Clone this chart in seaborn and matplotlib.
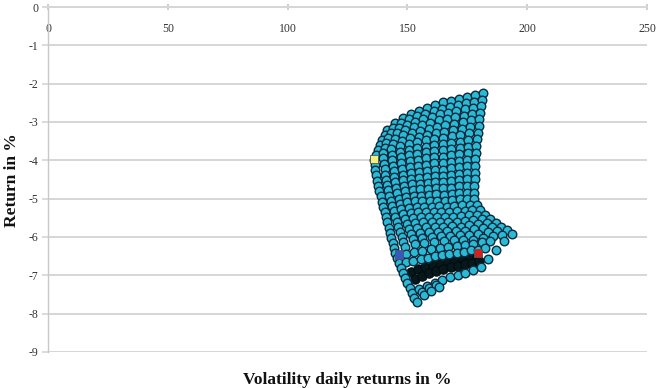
import matplotlib
matplotlib.use("Agg")
import matplotlib.pyplot as plt
import seaborn as sns
import pandas as pd

# ---- data (volatility %, return %) ----
# visible (light) portfolios, one list per row of the grid, top to bottom
mesh_vol = [
    [141.5, 144.8, 148.2, 151.5, 154.9, 158.2, 161.6, 164.9, 168.2, 171.6, 174.9, 178.3, 181.6],
    [140.6, 143.9, 147.4, 150.7, 154.1, 157.5, 160.9, 164.3, 167.6, 171.0, 174.4, 177.8, 181.2],
    [139.6, 143.0, 146.5, 149.9, 153.3, 156.7, 160.2, 163.6, 167.0, 170.4, 173.9, 177.3, 180.7],
    [138.7, 142.1, 145.7, 149.1, 152.6, 156.0, 159.6, 163.0, 166.5, 169.9, 173.5, 176.9, 180.4],
    [137.7, 141.2, 144.8, 148.3, 151.8, 155.3, 158.9, 162.4, 165.9, 169.4, 173.0, 176.5, 180.0],
    [136.9, 140.5, 144.1, 147.6, 151.2, 154.7, 158.3, 161.9, 165.4, 169.0, 172.6, 176.1, 179.7],
    [136.1, 139.7, 143.3, 146.9, 150.5, 154.1, 157.7, 161.3, 164.9, 168.5, 172.1, 175.7, 179.3],
    [136.4, 139.9, 143.5, 147.1, 150.6, 154.2, 157.7, 161.3, 164.8, 168.4, 172.0, 175.5, 179.1],
    [136.6, 140.1, 143.6, 147.2, 150.7, 154.2, 157.7, 161.2, 164.7, 168.3, 171.8, 175.3, 178.8],
    [137.0, 140.5, 143.9, 147.5, 150.9, 154.4, 157.8, 161.3, 164.7, 168.3, 171.7, 175.2, 178.6],
    [137.4, 140.8, 144.2, 147.7, 151.1, 154.5, 157.9, 161.3, 164.7, 168.2, 171.6, 175.0, 178.4],
    [137.8, 141.2, 144.6, 148.0, 151.3, 154.7, 158.1, 161.4, 164.8, 168.2, 171.6, 175.0, 178.3],
    [138.2, 141.5, 144.9, 148.2, 151.5, 154.9, 158.2, 161.5, 164.9, 168.2, 171.5, 174.9, 178.2],
    [138.8, 142.0, 145.3, 148.6, 151.9, 155.2, 158.4, 161.7, 165.0, 168.3, 171.5, 174.8, 178.1],
    [139.3, 142.5, 145.7, 149.0, 152.2, 155.4, 158.6, 161.8, 165.0, 168.3, 171.5, 174.7, 177.9],
    [139.9, 143.1, 146.3, 149.5, 152.6, 155.8, 159.0, 162.1, 165.3, 168.5, 171.7, 174.8, 178.0],
    [140.5, 143.6, 146.8, 149.9, 153.0, 156.1, 159.3, 162.4, 165.5, 168.6, 171.8, 174.9, 178.0],
    [141.1, 144.2, 147.5, 150.6, 153.8, 156.9, 160.2, 163.3, 166.5, 169.6, 172.9, 176.0, 179.2],
    [141.6, 144.8, 148.1, 151.3, 154.5, 157.7, 161.0, 164.2, 167.4, 170.6, 173.9, 177.1, 180.3],
    [142.2, 145.5, 148.9, 152.3, 155.6, 158.9, 162.3, 165.7, 169.0, 172.4, 175.7, 179.1, 182.4],
    [142.7, 146.2, 149.7, 153.2, 156.6, 160.1, 163.6, 167.1, 170.6, 174.1, 177.5, 181.0, 184.5],
    [143.3, 146.9, 150.5, 154.2, 157.8, 161.4, 165.0, 168.7, 172.3, 175.9, 179.5, 183.1, 186.8],
    [143.8, 147.6, 151.3, 155.1, 158.9, 162.6, 166.4, 170.2, 173.9, 177.7, 181.5, 185.2, 189.0],
    [144.4, 148.3, 152.2, 156.1, 160.1, 163.9, 167.9, 171.8, 175.7, 179.6, 183.6, 187.4, 191.4],
    [144.9, 149.0, 153.0, 157.1, 161.2, 165.2, 169.3, 173.4, 177.4, 181.5, 185.6, 189.6, 193.7],
    [145.7, 149.3, 152.8, 156.3, 159.9, 163.4, 166.9, 170.5, 174.0, 177.5, 181.1, 184.6],
    [146.5, 149.5, 152.5, 155.5, 158.5, 161.5, 164.5, 167.5, 170.5, 173.5, 176.5, 179.5, 182.5],
    [147.3, 148.2],
    [149.1, 150.0],
    [150.9, 151.8, 155.0, 158.2, 161.4, 164.6, 167.8, 171.0, 174.2, 177.4, 180.6, 183.8, 187.0, 190.2],
    [152.9, 156.0, 159.0, 162.0],
    [154.0, 157.0, 160.0, 163.0],
]
mesh_ret = [
    [-3.21, -3.03, -2.90, -2.79, -2.71, -2.64, -2.56, -2.49, -2.44, -2.39, -2.34, -2.30, -2.25],
    [-3.34, -3.16, -3.03, -2.93, -2.85, -2.79, -2.71, -2.65, -2.60, -2.55, -2.51, -2.47, -2.42],
    [-3.46, -3.29, -3.16, -3.07, -2.99, -2.93, -2.86, -2.80, -2.76, -2.71, -2.67, -2.63, -2.59],
    [-3.59, -3.42, -3.30, -3.21, -3.14, -3.08, -3.02, -2.96, -2.92, -2.88, -2.84, -2.80, -2.76],
    [-3.72, -3.55, -3.44, -3.35, -3.28, -3.23, -3.17, -3.12, -3.08, -3.04, -3.00, -2.96, -2.93],
    [-3.85, -3.68, -3.58, -3.49, -3.43, -3.38, -3.33, -3.28, -3.25, -3.21, -3.17, -3.13, -3.11],
    [-3.98, -3.81, -3.71, -3.63, -3.58, -3.53, -3.48, -3.44, -3.41, -3.37, -3.34, -3.30, -3.28],
    [-4.12, -3.95, -3.85, -3.78, -3.73, -3.68, -3.64, -3.60, -3.58, -3.54, -3.51, -3.47, -3.45],
    [-4.25, -4.09, -3.99, -3.92, -3.87, -3.83, -3.79, -3.76, -3.74, -3.70, -3.67, -3.64, -3.62],
    [-4.39, -4.23, -4.14, -4.07, -4.03, -3.99, -3.95, -3.92, -3.91, -3.87, -3.84, -3.81, -3.80],
    [-4.53, -4.37, -4.28, -4.22, -4.18, -4.15, -4.11, -4.08, -4.07, -4.04, -4.01, -3.98, -3.97],
    [-4.67, -4.51, -4.43, -4.37, -4.33, -4.31, -4.27, -4.25, -4.24, -4.21, -4.18, -4.16, -4.15],
    [-4.80, -4.64, -4.57, -4.51, -4.48, -4.46, -4.43, -4.41, -4.40, -4.38, -4.35, -4.33, -4.32],
    [-4.94, -4.78, -4.72, -4.66, -4.63, -4.61, -4.59, -4.57, -4.57, -4.55, -4.52, -4.50, -4.49],
    [-5.08, -4.92, -4.86, -4.81, -4.78, -4.76, -4.75, -4.73, -4.73, -4.71, -4.68, -4.66, -4.66],
    [-5.21, -5.06, -5.00, -4.95, -4.93, -4.92, -4.91, -4.89, -4.90, -4.88, -4.85, -4.84, -4.84],
    [-5.34, -5.19, -5.13, -5.09, -5.07, -5.07, -5.06, -5.05, -5.06, -5.04, -5.02, -5.01, -5.01],
    [-5.48, -5.33, -5.27, -5.24, -5.22, -5.21, -5.21, -5.20, -5.21, -5.19, -5.17, -5.16, -5.16],
    [-5.62, -5.47, -5.41, -5.38, -5.36, -5.35, -5.35, -5.35, -5.36, -5.33, -5.31, -5.30, -5.30],
    [-5.76, -5.60, -5.54, -5.51, -5.49, -5.48, -5.48, -5.48, -5.49, -5.46, -5.43, -5.42, -5.42],
    [-5.89, -5.73, -5.67, -5.64, -5.62, -5.61, -5.61, -5.60, -5.61, -5.58, -5.55, -5.53, -5.53],
    [-6.03, -5.86, -5.80, -5.77, -5.75, -5.74, -5.73, -5.72, -5.73, -5.69, -5.66, -5.63, -5.63],
    [-6.16, -5.99, -5.93, -5.89, -5.87, -5.86, -5.85, -5.84, -5.84, -5.80, -5.76, -5.73, -5.73],
    [-6.30, -6.12, -6.06, -6.02, -6.00, -5.98, -5.97, -5.96, -5.96, -5.92, -5.87, -5.84, -5.83],
    [-6.43, -6.25, -6.19, -6.15, -6.12, -6.10, -6.09, -6.08, -6.07, -6.03, -5.98, -5.94, -5.93],
    [-6.56, -6.45, -6.40, -6.36, -6.32, -6.29, -6.26, -6.24, -6.21, -6.18, -6.14, -6.10],
    [-6.69, -6.66, -6.62, -6.58, -6.54, -6.50, -6.47, -6.44, -6.41, -6.38, -6.35, -6.33, -6.30],
    [-6.82, -6.95],
    [-7.08, -7.20],
    [-7.33, -7.46, -7.35, -7.27, -7.19, -7.12, -7.05, -6.99, -6.93, -6.87, -6.78, -6.58, -6.34, -6.10],
    [-7.58, -7.43, -7.33, -7.24],
    [-7.70, -7.52, -7.41, -7.30],
]
# folded-under portfolios that show as a dark band
fold_vol = [
    [151.3, 154.4, 157.5, 160.6, 163.7, 166.8, 169.9, 173.0, 176.1, 179.2],
    [153.0, 156.0, 159.0, 162.0, 165.0, 168.0, 171.0, 174.0, 177.0, 180.0],
]
fold_ret = [
    [-6.90, -6.84, -6.79, -6.74, -6.70, -6.66, -6.62, -6.59, -6.56, -6.53],
    [-7.10, -7.02, -6.95, -6.89, -6.84, -6.79, -6.75, -6.71, -6.67, -6.63],
]
special_vol = [136.0, 146.5, 179.5]
special_ret = [-3.97, -6.45, -6.42]
special_name = ["yellow", "blue", "red"]
special_colors = {"yellow": "#F4F07A", "blue": "#3358C8", "red": "#D62020"}

x_ticks = [0, 50, 100, 150, 200, 250]
y_ticks = [0, -1, -2, -3, -4, -5, -6, -7, -8, -9]

# ---- build tables ----
mesh_df = pd.DataFrame({
    "vol": [v for row in mesh_vol for v in row],
    "ret": [r for row in mesh_ret for r in row],
})
fold_df = pd.DataFrame({
    "vol": [v for row in fold_vol for v in row],
    "ret": [r for row in fold_ret for r in row],
})
spec_df = pd.DataFrame({"vol": special_vol, "ret": special_ret, "name": special_name})

sns.set_theme(style="white")
plt.rcParams["font.family"] = ["Liberation Serif", "DejaVu Serif"]

fig = plt.figure(figsize=(6.56, 3.88), dpi=100)
ax = fig.add_axes([48 / 656, 1 - 352 / 388, (647 - 48) / 656, (352 - 7) / 388])

grid_c = "#D6D6D6"
ax.set_xlim(0, 250)
ax.set_ylim(-9, 0)
ax.set_yticks(y_ticks)
ax.set_yticklabels([str(t) for t in y_ticks])
ax.set_xticks(x_ticks)
ax.set_xticklabels([str(t) for t in x_ticks])
ax.yaxis.grid(True, color=grid_c, linewidth=1.4)
ax.xaxis.grid(False)
ax.set_axisbelow(True)

for s in ["right", "bottom"]:
    ax.spines[s].set_visible(False)
ax.spines["left"].set_color("#C8C8C8")
ax.spines["left"].set_linewidth(1.0)
ax.spines["top"].set_color(grid_c)
ax.spines["top"].set_linewidth(1.4)

ax.tick_params(axis="x", top=True, bottom=False, labeltop=True, labelbottom=False,
               direction="inout", length=4, color="#C8C8C8", pad=-22,
               labelsize=8.5, labelcolor="#333333")
ax.tick_params(axis="y", left=True, direction="out", length=4, color=grid_c,
               pad=3, labelsize=8.5, labelcolor="#333333")

sns.scatterplot(data=fold_df, x="vol", y="ret", ax=ax, color="#06181C",
                edgecolor="#02090B", linewidth=0.7, s=46, legend=False, zorder=3)
sns.scatterplot(data=mesh_df, x="vol", y="ret", ax=ax, color="#2BBAD4",
                edgecolor="#0A2A40", linewidth=1.0, s=38, legend=False, zorder=3)
sns.scatterplot(data=spec_df, x="vol", y="ret", hue="name", palette=special_colors,
                marker="s", s=38, edgecolor="#555555", linewidth=0.6, ax=ax,
                legend=False, zorder=4)

ax.set_xlabel("")
ax.set_ylabel("")
fig.text(347 / 656, 1 - 380 / 388, "Volatility daily returns in %", ha="center",
         va="center", fontsize=12.5, fontweight="bold", color="#111111")
fig.text(12 / 656, 1 - 180 / 388, "Return in %", ha="center", va="center",
         rotation=90, fontsize=12.5, fontweight="bold", color="#111111")

fig.savefig("out.png", dpi=100)
